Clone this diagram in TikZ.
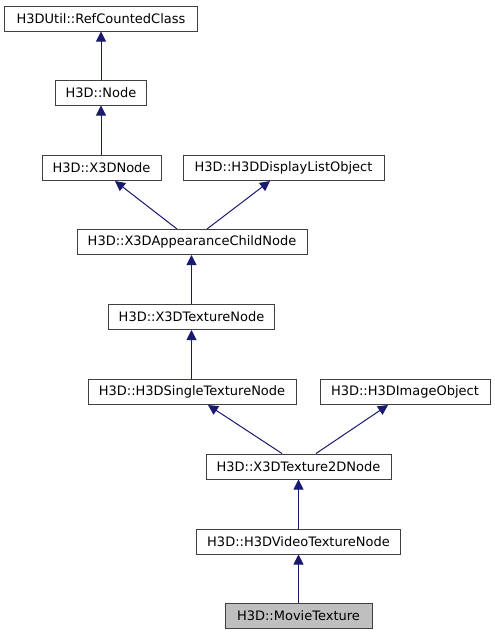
\documentclass[tikz,border=0pt]{standalone}
\usepackage{fontspec}
\setmainfont{DejaVu Sans}
\usetikzlibrary{arrows.meta}
\definecolor{edgeblue}{HTML}{191970}
\definecolor{boxgray}{HTML}{404040}
\begin{document}
\begin{tikzpicture}[x=1pt,y=-1pt,
  cls/.style={draw=boxgray, line width=1pt, fill=white, inner sep=0pt, minimum height=25pt,
    font=\fontsize{13}{15}\selectfont, text=black},
  cur/.style={cls, fill=black!25},
  inh/.style={draw=edgeblue, line width=1pt, {Triangle[length=10pt,width=10pt]}-}]
\useasboundingbox (0,0) rectangle (495,635);
\node[cls, minimum width=193pt] (rc) at (101,18.5) {H3DUtil::RefCountedClass};
\node[cls, minimum width=91pt] (nd) at (101,92.5) {H3D::Node};
\node[cls, minimum width=119pt] (x3d) at (101.5,168) {H3D::X3DNode};
\node[cls, minimum width=201pt] (disp) at (283.5,168) {H3D::H3DDisplayListObject};
\node[cls, minimum width=230pt] (app) at (192,242) {H3D::X3DAppearanceChildNode};
\node[cls, minimum width=166pt] (tex) at (191.5,317) {H3D::X3DTextureNode};
\node[cls, minimum width=208pt] (single) at (192,392) {H3D::H3DSingleTextureNode};
\node[cls, minimum width=170pt] (img) at (405,392) {H3D::H3DImageObject};
\node[cls, minimum width=185pt] (t2d) at (298.5,466.5) {H3D::X3DTexture2DNode};
\node[cls, minimum width=204pt] (vid) at (298.5,541.5) {H3D::H3DVideoTextureNode};
\node[cur, minimum width=147pt] (movie) at (298.5,615.5) {H3D::MovieTexture};
\draw[inh] (rc.south) -- (nd.north);
\draw[inh] (nd.south) -- (nd.south |- x3d.north);
\draw[inh] ([xshift=13.5pt]x3d.south) -- ([xshift=-15pt]app.north);
\draw[inh] ([xshift=-13.5pt]disp.south) -- ([xshift=15pt]app.north);
\draw[inh] (tex.north |- app.south) -- (tex.north);
\draw[inh] (tex.south) -- (tex.south |- single.north);
\draw[inh] ([xshift=16pt]single.south) -- ([xshift=-16.5pt]t2d.north);
\draw[inh] ([xshift=-17pt]img.south) -- ([xshift=17.5pt]t2d.north);
\draw[inh] (t2d.south) -- (vid.north);
\draw[inh] (vid.south) -- (movie.north);
\end{tikzpicture}
\end{document}
